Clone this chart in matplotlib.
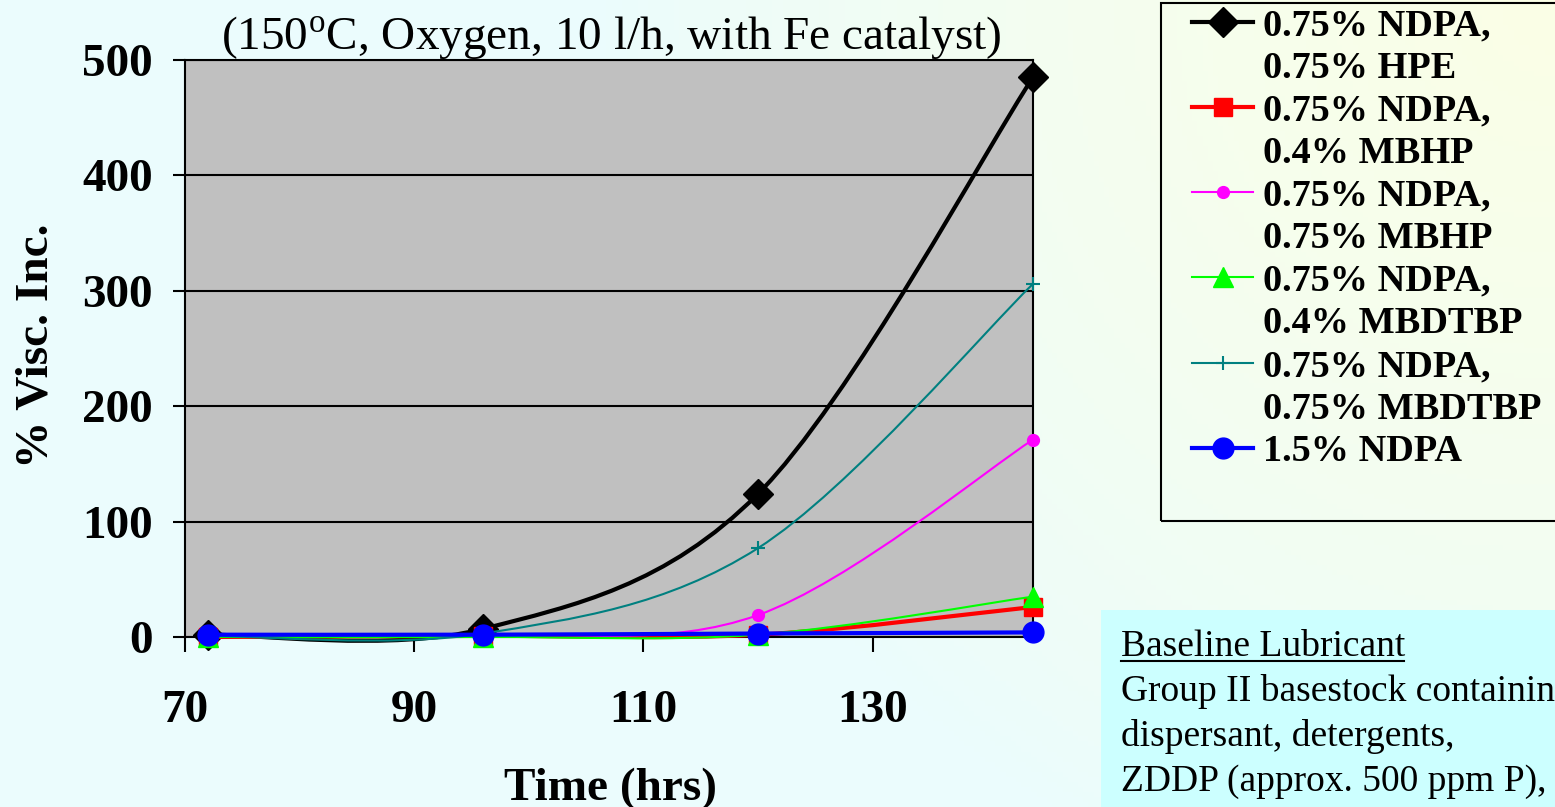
import numpy as np
import matplotlib
matplotlib.use('Agg')
import matplotlib.pyplot as plt
from matplotlib.path import Path
from matplotlib.patches import PathPatch, Rectangle
from matplotlib.lines import Line2D

plt.rcParams['font.family'] = ['Liberation Serif', 'DejaVu Serif']
plt.rcParams['mathtext.fontset'] = 'custom'
plt.rcParams['mathtext.rm'] = 'Liberation Serif'

# data (hours, % viscosity increase)
hours = [72, 96, 120, 144]
hpe_075 = [2, 7, 124, 485]
mbhp_04 = [0, 1, 2, 26]
mbhp_075 = [1, 2, 19, 171]
mbdtbp_04 = [0, 0, 2, 35]
mbdtbp_075 = [1, 3, 77, 306]
ndpa_15 = [2, 2, 3, 4]

labels = [
    ('0.75% NDPA,', '0.75% HPE'),
    ('0.75% NDPA,', '0.4% MBHP'),
    ('0.75% NDPA,', '0.75% MBHP'),
    ('0.75% NDPA,', '0.4% MBDTBP'),
    ('0.75% NDPA,', '0.75% MBDTBP'),
    ('1.5% NDPA', None),
]
x_ticks = [70, 90, 110, 130]
y_ticks = [0, 100, 200, 300, 400, 500]

W, H = 1555, 807


def smooth_path(x, y):
    # bezier through the points, like excel's smoothed line
    pts = np.column_stack([x, y]).astype(float)
    n = len(pts)
    verts = [pts[0]]
    codes = [Path.MOVETO]
    for i in range(n - 1):
        p0 = pts[i - 1] if i > 0 else pts[i]
        p1, p2 = pts[i], pts[i + 1]
        p3 = pts[i + 2] if i + 2 < n else pts[i + 1]
        verts += [p1 + (p2 - p0) / 6, p2 - (p3 - p1) / 6, p2]
        codes += [Path.CURVE4] * 3
    return Path(verts, codes)


fig = plt.figure(figsize=(W / 100, H / 100), dpi=100)

# background gradient
bg = fig.add_axes([0, 0, 1, 1], zorder=-10)
gx, gy = np.meshgrid(np.linspace(0, W, 300), np.linspace(0, H, 160))
dist = np.hypot(W - gx, gy)
t = np.clip(1 - dist / 950, 0, 1) ** 0.8
cyan = np.array([0xEB, 0xFC, 0xFD]) / 255
yellow = np.array([0xFB, 0xFF, 0xE6]) / 255
img = cyan[None, None, :] * (1 - t[..., None]) + yellow[None, None, :] * t[..., None]
bg.imshow(img, aspect='auto', extent=[0, 1, 0, 1], origin='upper')
bg.set_axis_off()

ax = fig.add_axes([185 / W, 1 - 637 / H, (1033 - 185) / W, (637 - 60) / H])
ax.set_facecolor('#C0C0C0')

series = [
    (hpe_075, 'black', 'D', 15, 3.0, 1.0),
    (mbhp_04, '#FF0000', 's', 13, 3.0, 1.0),
    (mbhp_075, '#FF00FF', 'o', 8.5, 1.5, 1.0),
    (mbdtbp_04, '#00FF00', '^', 15, 1.5, 1.0),
    (mbdtbp_075, '#008080', '+', 10, 1.5, 1.5),
    (ndpa_15, '#0000FF', 'o', 15, 3.0, 1.0),
]

handles = []
leg_labels = []
for k, (vals, col, mk, ms, lw, mew) in enumerate(series):
    z = 3 + k * 0.1
    ax.add_patch(PathPatch(smooth_path(hours, vals), fill=False, edgecolor=col,
                           lw=lw, zorder=z, capstyle='round', joinstyle='round',
                           clip_on=False))
    ax.plot(hours, vals, linestyle='none', marker=mk, ms=ms, color=col, mec=col,
            mew=mew, zorder=z + 0.05, clip_on=False)
    handles.append(Line2D([], [], color=col, lw=lw, marker=mk, ms=ms, mec=col, mew=mew))
    leg_labels.append(labels[k][0])
    if labels[k][1]:
        handles.append(Line2D([], [], linestyle='none'))
        leg_labels.append(labels[k][1])

ax.set_xlim(70, 144)
ax.set_ylim(0, 500)
ax.set_xticks(x_ticks)
ax.set_yticks(y_ticks)
ax.tick_params(axis='both', direction='out', width=1.5, colors='black',
               labelsize=34)
ax.tick_params(axis='x', length=11, pad=27)
ax.tick_params(axis='y', length=9, pad=14)
for lab in ax.get_xticklabels() + ax.get_yticklabels():
    lab.set_fontweight('bold')
ax.grid(axis='y', color='black', lw=1.5)
ax.set_axisbelow(True)
for sp in ax.spines.values():
    sp.set_linewidth(1.5)
    sp.set_color('black')

fig.text(611 / W, 1 - 50 / H, '(150$^{\\mathrm{o}}$C, Oxygen, 10 l/h, with Fe catalyst)',
         ha='center', va='baseline', fontsize=34)
fig.text(611 / W, 1 - 800 / H, 'Time (hrs)', ha='center', va='baseline',
         fontsize=34, fontweight='bold')
fig.text(37 / W, 1 - 346 / H, '% Visc. Inc.', ha='center', va='center',
         rotation=90, fontsize=34, fontweight='bold')

# legend box
fig.patches.append(Rectangle((1161 / W, 1 - 521 / H), (1570 - 1161) / W, (521 - 3) / H,
                             transform=fig.transFigure, fill=False, edgecolor='black',
                             lw=1.5))
fig.legend(handles, leg_labels, loc='upper left',
           bbox_to_anchor=(1192 / W, 1 - 8 / H), frameon=False,
           prop={'weight': 'bold', 'size': 27.5}, borderpad=0, borderaxespad=0,
           handlelength=1.6, handletextpad=0.25, labelspacing=0.2)

# baseline lubricant note
fig.patches.append(Rectangle((1101 / W, 0), 0.4, (807 - 610) / H,
                             transform=fig.transFigure, facecolor='#CCFFFF',
                             edgecolor='none'))
note = ['Baseline Lubricant', 'Group II basestock containing',
        'dispersant, detergents,', 'ZDDP (approx. 500 ppm P),']
for i, line in enumerate(note):
    fig.text(1121 / W, 1 - (656 + 45 * i) / H, line, ha='left', va='baseline',
             fontsize=27)
fig.add_artist(Line2D([1121 / W, 1404 / W], [1 - 661 / H, 1 - 661 / H],
                      color='black', lw=1.5, transform=fig.transFigure))

fig.savefig('out.png', dpi=100)
